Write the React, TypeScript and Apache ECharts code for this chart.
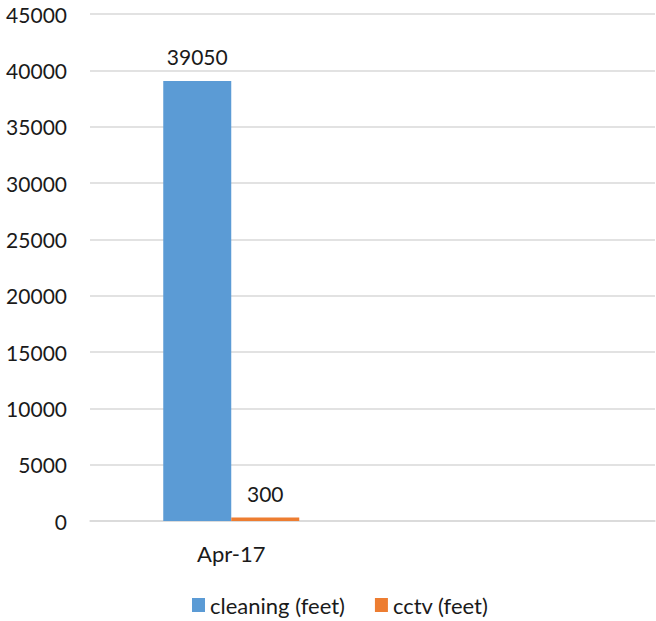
import React, { useEffect, useRef } from "react";
import * as echarts from "echarts";

const categories = ["Apr-17", ""];
const cleaningFeet = [39050, null];
const cctvFeet = [300, null];
const yTicks = { min: 0, max: 45000, interval: 5000 };

const FONT = "Lato, 'Open Sans', 'Noto Sans', sans-serif";
const TXT = "#1a1a1a";

export default function App() {
  const ref = useRef<HTMLDivElement>(null);
  useEffect(() => {
    if (!ref.current) return;
    const chart = echarts.init(ref.current, null, { renderer: "svg" });
    chart.setOption({
      animation: false,
      textStyle: { fontFamily: FONT },
      grid: { left: 90, right: 1, top: 14, bottom: 100, containLabel: false },
      legend: {
        top: 594,
        left: 192,
        padding: 0,
        itemWidth: 13,
        itemHeight: 14,
        itemGap: 30,
        icon: "rect",
        textStyle: { fontSize: 22, color: TXT, fontFamily: FONT },
        data: ["cleaning (feet)", "cctv (feet)"],
      },
      xAxis: {
        type: "category",
        data: categories,
        axisTick: { show: false },
        axisLine: { lineStyle: { color: "#D9D9D9", width: 1.5 } },
        axisLabel: { fontSize: 22, color: TXT, margin: 21, fontFamily: FONT },
      },
      yAxis: {
        type: "value",
        min: yTicks.min,
        max: yTicks.max,
        interval: yTicks.interval,
        axisLine: { show: false },
        axisTick: { show: false },
        splitLine: { lineStyle: { color: "#D9D9D9", width: 1.5 } },
        axisLabel: {
          fontSize: 21,
          color: TXT,
          margin: 23,
          fontFamily: FONT,
          formatter: (v: number) => String(v),
        },
      },
      series: [
        {
          name: "cleaning (feet)",
          type: "bar",
          data: cleaningFeet,
          barWidth: 68,
          barGap: "0%",
          itemStyle: { color: "#5B9BD5" },
          label: { show: true, position: "top", distance: 14, fontSize: 21, color: TXT, fontFamily: FONT },
        },
        {
          name: "cctv (feet)",
          type: "bar",
          data: cctvFeet,
          barWidth: 68,
          itemStyle: { color: "#ED7D31" },
          label: { show: true, position: "top", distance: 14, fontSize: 21, color: TXT, fontFamily: FONT },
        },
      ],
    });
    return () => chart.dispose();
  }, []);
  return (
    <div
      ref={ref}
      style={{ position: "fixed", left: 0, top: 0, width: 656, height: 621, background: "#fff" }}
    />
  );
}
